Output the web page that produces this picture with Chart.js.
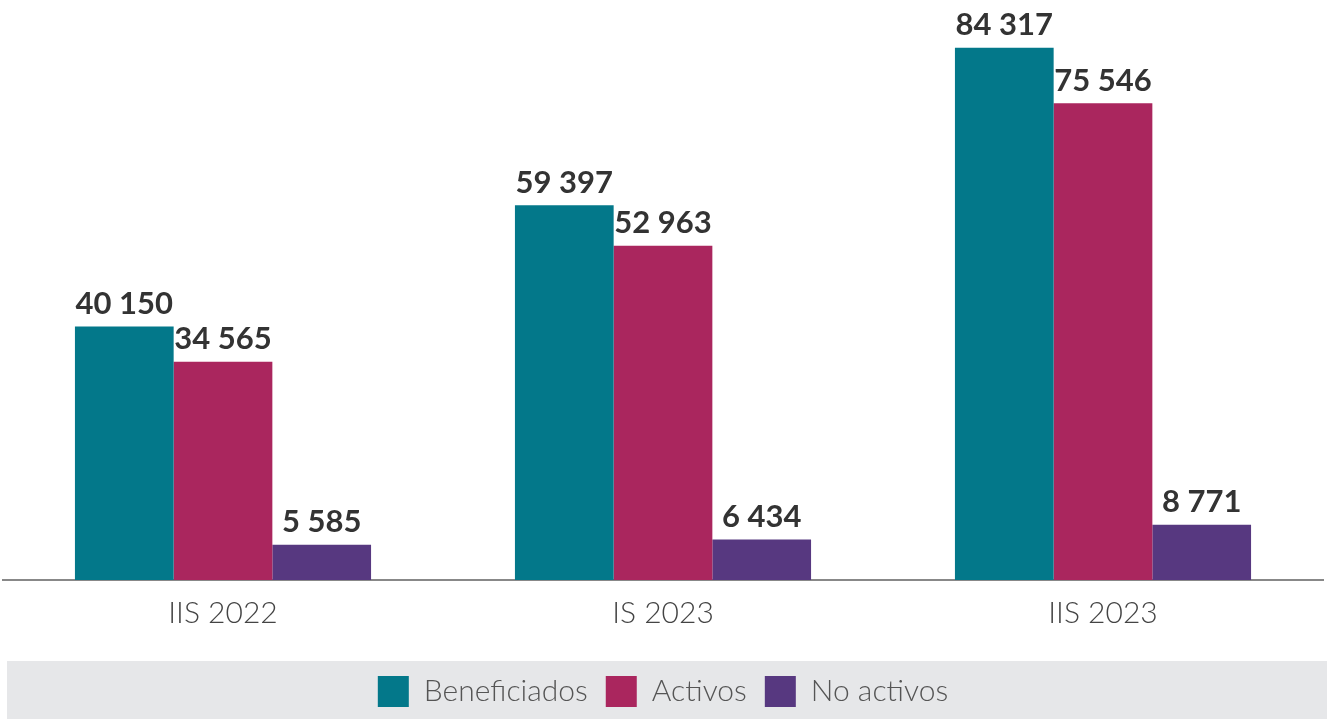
<!DOCTYPE html>
<html>
<head>
<meta charset="utf-8">
<script src="https://cdn.jsdelivr.net/npm/chart.js@4/dist/chart.umd.min.js"></script>
<style>
  html, body { margin: 0; padding: 0; background: #fff; }
  #wrap { width: 1327px; height: 719px; }
</style>
</head>
<body>
<div id="wrap"><canvas id="chart"></canvas></div>
<script>
  // categorías y series
  const periodos = ['IIS 2022', 'IS 2023', 'IIS 2023'];
  const beneficiados = [40150, 59397, 84317];
  const activos = [34565, 52963, 75546];
  const noActivos = [5585, 6434, 8771];

  const fmt = n => n.toString().replace(/\B(?=(\d{3})+(?!\d))/g, ' ');

  // altura fija de la leyenda + fondo gris
  const bandaLeyenda = {
    id: 'bandaLeyenda',
    beforeInit(chart) {
      const legend = chart.legend;
      const fitOrig = legend.fit;
      legend.fit = function () {
        fitOrig.call(this);
        this.height = 61;
      };
    },
    beforeDraw(chart) {
      const { ctx, legend } = chart;
      ctx.save();
      ctx.fillStyle = '#e6e7e9';
      ctx.fillRect(7, legend.top + 3, chart.width - 7, chart.height - legend.top - 3);
      ctx.restore();
    }
  };

  // etiquetas de valor sobre cada barra
  const etiquetas = {
    id: 'etiquetas',
    afterDatasetsDraw(chart) {
      const ctx = chart.ctx;
      ctx.save();
      ctx.font = 'bold 31px Lato, "Open Sans", sans-serif';
      ctx.fillStyle = '#333333';
      ctx.textAlign = 'center';
      ctx.textBaseline = 'bottom';
      chart.data.datasets.forEach((ds, i) => {
        chart.getDatasetMeta(i).data.forEach((bar, j) => {
          ctx.fillText(fmt(ds.data[j]), bar.x, bar.y - 7);
        });
      });
      ctx.restore();
    }
  };

  new Chart(document.getElementById('chart'), {
    type: 'bar',
    data: {
      labels: periodos,
      datasets: [
        { label: 'Beneficiados', data: beneficiados, backgroundColor: '#03788a' },
        { label: 'Activos', data: activos, backgroundColor: '#aa265e' },
        { label: 'No activos', data: noActivos, backgroundColor: '#573880' }
      ]
    },
    options: {
      responsive: true,
      maintainAspectRatio: false,
      animation: false,
      layout: { padding: { top: 12, left: 3, right: 4, bottom: 0 } },
      datasets: { bar: { categoryPercentage: 0.673, barPercentage: 1 } },
      scales: {
        x: {
          grid: { display: false },
          border: { color: '#888888', width: 2 },
          afterFit: s => { s.height = 78; },
          ticks: {
            color: '#444444',
            padding: 7,
            font: { family: 'Lato, "Open Sans", sans-serif', size: 30, weight: 300 }
          }
        },
        y: { display: false, min: 0, max: 90000 }
      },
      plugins: {
        tooltip: { enabled: false },
        legend: {
          position: 'bottom',
          labels: {
            boxWidth: 31,
            boxHeight: 31,
            padding: 18,
            color: '#555555',
            font: { family: 'Lato, "Open Sans", sans-serif', size: 30, weight: 300 }
          }
        }
      }
    },
    plugins: [bandaLeyenda, etiquetas]
  });
</script>
</body>
</html>
